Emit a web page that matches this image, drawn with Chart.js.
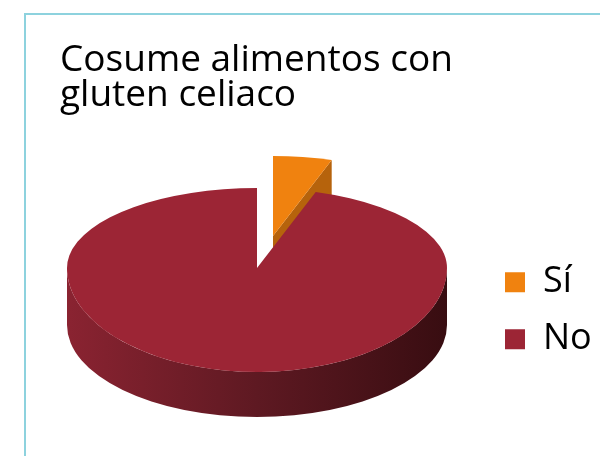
<!DOCTYPE html>
<html><head><meta charset="utf-8">
<script src="https://cdn.jsdelivr.net/npm/chart.js@4.4.1/dist/chart.umd.min.js"></script>
<style>html,body{margin:0;padding:0;background:#fff;overflow:hidden}#wrap{width:600px;height:456px;position:relative}</style>
</head><body><div id="wrap"><canvas id="c" width="600" height="456"></canvas></div>
<script>
// ---- data ----
const categories = ['Sí', 'No'];
const values = [5, 95];
const titleLines = ['Cosume alimentos con', 'gluten celiaco'];

// ---- styles ----
const topColors = ['#f0820f', '#9c2535'];
const faceColors = ['#b6630c', '#5e1922'];
const wallShades = [['#d0700c', '#a0560a', '#6e3b07'], ['#8a2331', '#5e1922', '#380d11']];
const explodeOffsets = [{x: 16, y: -32}, {x: 0, y: 0}];
const GEOM = {cx: 257, cy: 268, rx: 190, ryBack: 80, ryFront: 104, wallCy: 280, wallRy: 92, depth: 45};

const pie3d = {
  id: 'pie3d',
  beforeDraw(chart) {
    const ctx = chart.ctx;
    ctx.save();
    ctx.fillStyle = '#fff';
    ctx.fillRect(0, 0, chart.width, chart.height);
    ctx.strokeStyle = '#8dd2de';
    ctx.lineWidth = 2;
    ctx.beginPath();
    ctx.moveTo(25, chart.height);
    ctx.lineTo(25, 14);
    ctx.lineTo(chart.width, 14);
    ctx.stroke();
    ctx.restore();
  },
  beforeDatasetsDraw(chart) {
    const ctx = chart.ctx;
    const arcs = chart.getDatasetMeta(0).data;
    const g = GEOM;
    const TAU = Math.PI * 2;
    // side walls (front-facing part)
    arcs.forEach((arc, i) => {
      const a0 = arc.startAngle, a1 = arc.endAngle;
      const ex = explodeOffsets[i].x, ey = explodeOffsets[i].y;
      for (let k = -1; k <= 1; k++) {
        const lo = Math.max(a0, TAU * k), hi = Math.min(a1, Math.PI + TAU * k);
        if (hi - lo <= 1e-6) continue;
        const l = lo - TAU * k, h = hi - TAU * k;
        const grad = ctx.createLinearGradient(g.cx - g.rx + ex, 0, g.cx + g.rx + ex, 0);
        grad.addColorStop(0, wallShades[i][0]);
        grad.addColorStop(0.5, wallShades[i][1]);
        grad.addColorStop(1, wallShades[i][2]);
        ctx.save();
        ctx.beginPath();
        ctx.ellipse(g.cx + ex, g.cy + ey, g.rx, g.ryFront, 0, l, h, false);
        ctx.ellipse(g.cx + ex, g.wallCy + ey + g.depth, g.rx, g.wallRy, 0, h, l, true);
        ctx.closePath();
        ctx.fillStyle = grad;
        ctx.fill();
        ctx.restore();
      }
    });
    // radial cut faces of exploded slices
    arcs.forEach((arc, i) => {
      const ex = explodeOffsets[i].x, ey = explodeOffsets[i].y;
      if (!ex && !ey) return;
      const px = g.cx + ex, py = g.cy + ey;
      [[arc.endAngle, Math.cos(arc.endAngle) > 1e-6], [arc.startAngle, Math.cos(arc.startAngle) < -1e-6]].forEach(([a, vis]) => {
        if (!vis) return;
        const s = Math.sin(a);
        const qx = px + g.rx * Math.cos(a), qy = py + (s < 0 ? g.ryBack : g.ryFront) * s;
        ctx.save();
        ctx.beginPath();
        ctx.moveTo(px, py);
        ctx.lineTo(qx, qy);
        ctx.lineTo(qx, qy + g.depth);
        ctx.lineTo(px, py + g.depth);
        ctx.closePath();
        ctx.fillStyle = faceColors[i];
        ctx.fill();
        ctx.restore();
      });
    });
    // top faces, drawn by the library's arc elements
    arcs.forEach((arc, i) => {
      const ex = explodeOffsets[i].x, ey = explodeOffsets[i].y;
      const R = arc.outerRadius;
      [[g.ryBack, -10000, g.cy + ey], [g.ryFront, g.cy + ey, 10000]].forEach(([ry, y0, y1]) => {
        ctx.save();
        ctx.beginPath();
        ctx.rect(0, y0, chart.width, y1 - y0);
        ctx.clip();
        ctx.translate(g.cx + ex, g.cy + ey);
        ctx.scale(g.rx / R, ry / R);
        ctx.translate(-arc.x, -arc.y);
        arc.draw(ctx);
        ctx.restore();
      });
    });
    return false;
  }
};

new Chart(document.getElementById('c'), {
  type: 'pie',
  data: {
    labels: categories,
    datasets: [{data: values, backgroundColor: topColors, borderWidth: 0}]
  },
  options: {
    responsive: false,
    animation: false,
    events: [],
    layout: {padding: {left: 60, right: 0, top: 0, bottom: 0}},
    plugins: {
      title: {
        display: true, text: titleLines, align: 'start', color: '#000',
        font: {family: "'Open Sans'", size: 37, weight: 'normal', lineHeight: 0.95},
        padding: {top: 43, bottom: 52}
      },
      legend: {
        position: 'right', align: 'center', fullSize: false, maxWidth: 116,
        labels: {boxWidth: 20, boxHeight: 20, padding: 21, color: '#000', font: {family: "'Open Sans'", size: 36}}
      },
      tooltip: {enabled: false}
    }
  },
  plugins: [pie3d]
});
</script>
</body></html>
